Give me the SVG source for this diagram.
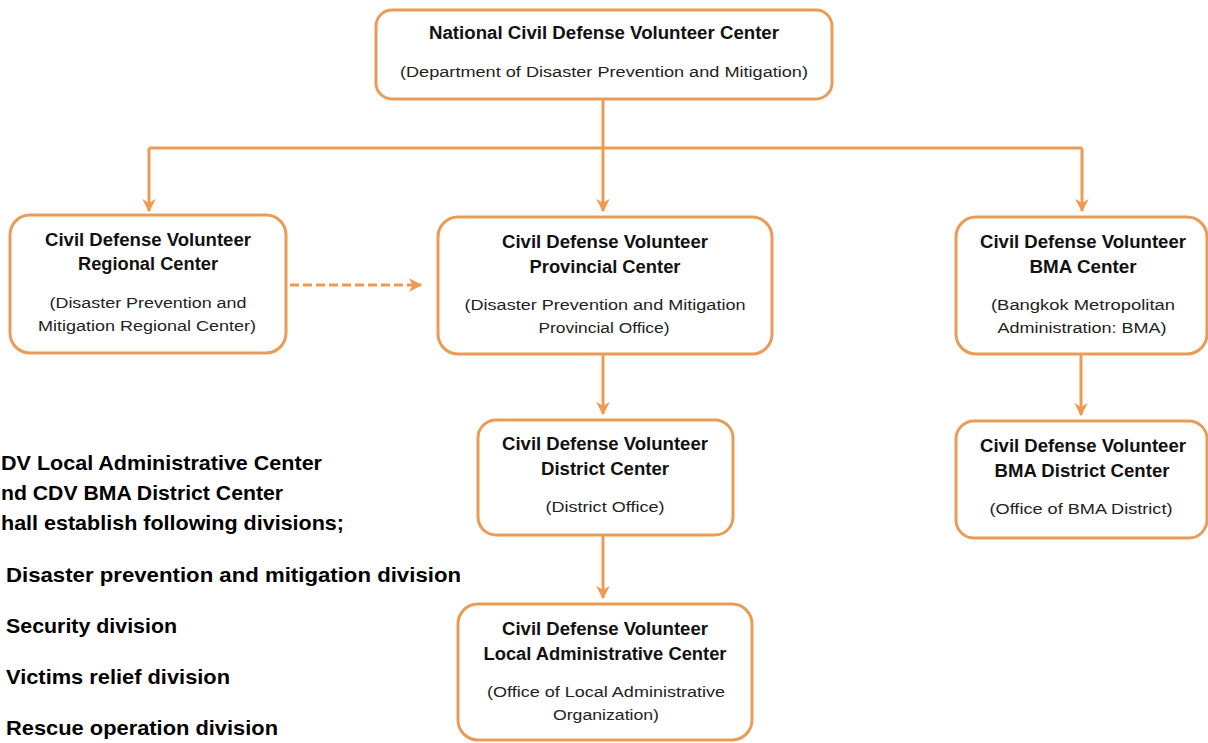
<svg xmlns="http://www.w3.org/2000/svg" width="1208" height="743" viewBox="0 0 1208 743">
<defs>
<style>
.box{fill:#fff;stroke:#E99C58;stroke-width:3}
.con{fill:none;stroke:#EE9A50;stroke-width:3}
.dash{fill:none;stroke:#EE9A50;stroke-width:3;stroke-dasharray:9 4}
.t{font-family:"Liberation Sans",Arial,sans-serif;font-weight:bold;font-size:17.5px;fill:#111;text-anchor:middle}
.s{font-family:"Liberation Sans",Arial,sans-serif;font-size:15.5px;fill:#222;text-anchor:middle}
.l{font-family:"Liberation Sans",Arial,sans-serif;font-weight:bold;font-size:21px;fill:#000}
</style>
<marker id="ah" viewBox="0 0 10 10" refX="9" refY="5" markerWidth="4.5" markerHeight="4.5" orient="auto" markerUnits="strokeWidth">
<path d="M0,0 L10,5 L0,10 L3,5 Z" fill="#EE9A50"/>
</marker>
</defs>
<rect width="1208" height="743" fill="#fff"/>
<g id="connectors">
<path class="con" d="M603,99 V148"/>
<path class="con" d="M149,148 H1082"/>
<path class="con" d="M149,148 V211" marker-end="url(#ah)"/>
<path class="con" d="M603,148 V211" marker-end="url(#ah)"/>
<path class="con" d="M1082,148 V211" marker-end="url(#ah)"/>
<path class="dash" d="M290,285 H421" marker-end="url(#ah)"/>
<path class="con" d="M603,354 V414" marker-end="url(#ah)"/>
<path class="con" d="M603,535 V598" marker-end="url(#ah)"/>
<path class="con" d="M1081,354 V415" marker-end="url(#ah)"/>
</g>
<g id="national">
<rect class="box" x="376" y="10" width="456" height="89" rx="16"/>
<text class="t" x="604" y="39" font-size="16" textLength="350" lengthAdjust="spacingAndGlyphs">National Civil Defense Volunteer Center</text>
<text class="s" x="604" y="77" textLength="408" lengthAdjust="spacingAndGlyphs">(Department of Disaster Prevention and Mitigation)</text>
</g>
<g id="regional">
<rect class="box" x="10" y="215" width="276" height="138" rx="20"/>
<text class="t" x="148" y="246" textLength="206" lengthAdjust="spacingAndGlyphs">Civil Defense Volunteer</text>
<text class="t" x="148" y="270" textLength="140" lengthAdjust="spacingAndGlyphs">Regional Center</text>
<text class="s" x="148" y="308" textLength="197" lengthAdjust="spacingAndGlyphs">(Disaster Prevention and</text>
<text class="s" x="147" y="331" textLength="218" lengthAdjust="spacingAndGlyphs">Mitigation Regional Center)</text>
</g>
<g id="provincial">
<rect class="box" x="438" y="217" width="334" height="137" rx="20"/>
<text class="t" x="605" y="248" textLength="206" lengthAdjust="spacingAndGlyphs">Civil Defense Volunteer</text>
<text class="t" x="605" y="273" textLength="151" lengthAdjust="spacingAndGlyphs">Provincial Center</text>
<text class="s" x="605" y="310" textLength="281" lengthAdjust="spacingAndGlyphs">(Disaster Prevention and Mitigation</text>
<text class="s" x="604" y="333" textLength="131" lengthAdjust="spacingAndGlyphs">Provincial Office)</text>
</g>
<g id="bma">
<rect class="box" x="956" y="217" width="251" height="137" rx="20"/>
<text class="t" x="1083" y="248" textLength="206" lengthAdjust="spacingAndGlyphs">Civil Defense Volunteer</text>
<text class="t" x="1083" y="273" textLength="107" lengthAdjust="spacingAndGlyphs">BMA Center</text>
<text class="s" x="1083" y="310" textLength="184" lengthAdjust="spacingAndGlyphs">(Bangkok Metropolitan</text>
<text class="s" x="1082" y="333" textLength="169" lengthAdjust="spacingAndGlyphs">Administration: BMA)</text>
</g>
<g id="district">
<rect class="box" x="478" y="420" width="255" height="115" rx="18"/>
<text class="t" x="605" y="450" textLength="206" lengthAdjust="spacingAndGlyphs">Civil Defense Volunteer</text>
<text class="t" x="605" y="475" textLength="128" lengthAdjust="spacingAndGlyphs">District Center</text>
<text class="s" x="605" y="512" textLength="119" lengthAdjust="spacingAndGlyphs">(District Office)</text>
</g>
<g id="bma-district">
<rect class="box" x="956" y="421" width="251" height="117" rx="18"/>
<text class="t" x="1083" y="452" textLength="206" lengthAdjust="spacingAndGlyphs">Civil Defense Volunteer</text>
<text class="t" x="1082" y="477" textLength="175" lengthAdjust="spacingAndGlyphs">BMA District Center</text>
<text class="s" x="1081" y="514" textLength="183" lengthAdjust="spacingAndGlyphs">(Office of BMA District)</text>
</g>
<g id="local">
<rect class="box" x="458" y="604" width="294" height="136" rx="20"/>
<text class="t" x="605" y="635" textLength="206" lengthAdjust="spacingAndGlyphs">Civil Defense Volunteer</text>
<text class="t" x="605" y="660" textLength="243" lengthAdjust="spacingAndGlyphs">Local Administrative Center</text>
<text class="s" x="606" y="697" textLength="238" lengthAdjust="spacingAndGlyphs">(Office of Local Administrative</text>
<text class="s" x="606" y="720" textLength="106" lengthAdjust="spacingAndGlyphs">Organization)</text>
</g>
<g id="divisions-note">
<text class="l" x="1" y="470" textLength="321" lengthAdjust="spacingAndGlyphs">DV Local Administrative Center</text>
<text class="l" x="1" y="500" textLength="282" lengthAdjust="spacingAndGlyphs">nd CDV BMA District Center</text>
<text class="l" x="1" y="530" textLength="343" lengthAdjust="spacingAndGlyphs">hall establish following divisions;</text>
<text class="l" x="6" y="582" textLength="455" lengthAdjust="spacingAndGlyphs">Disaster prevention and mitigation division</text>
<text class="l" x="6" y="633" textLength="171" lengthAdjust="spacingAndGlyphs">Security division</text>
<text class="l" x="6" y="684" textLength="224" lengthAdjust="spacingAndGlyphs">Victims relief division</text>
<text class="l" x="6" y="735" textLength="272" lengthAdjust="spacingAndGlyphs">Rescue operation division</text>
</g>
</svg>
